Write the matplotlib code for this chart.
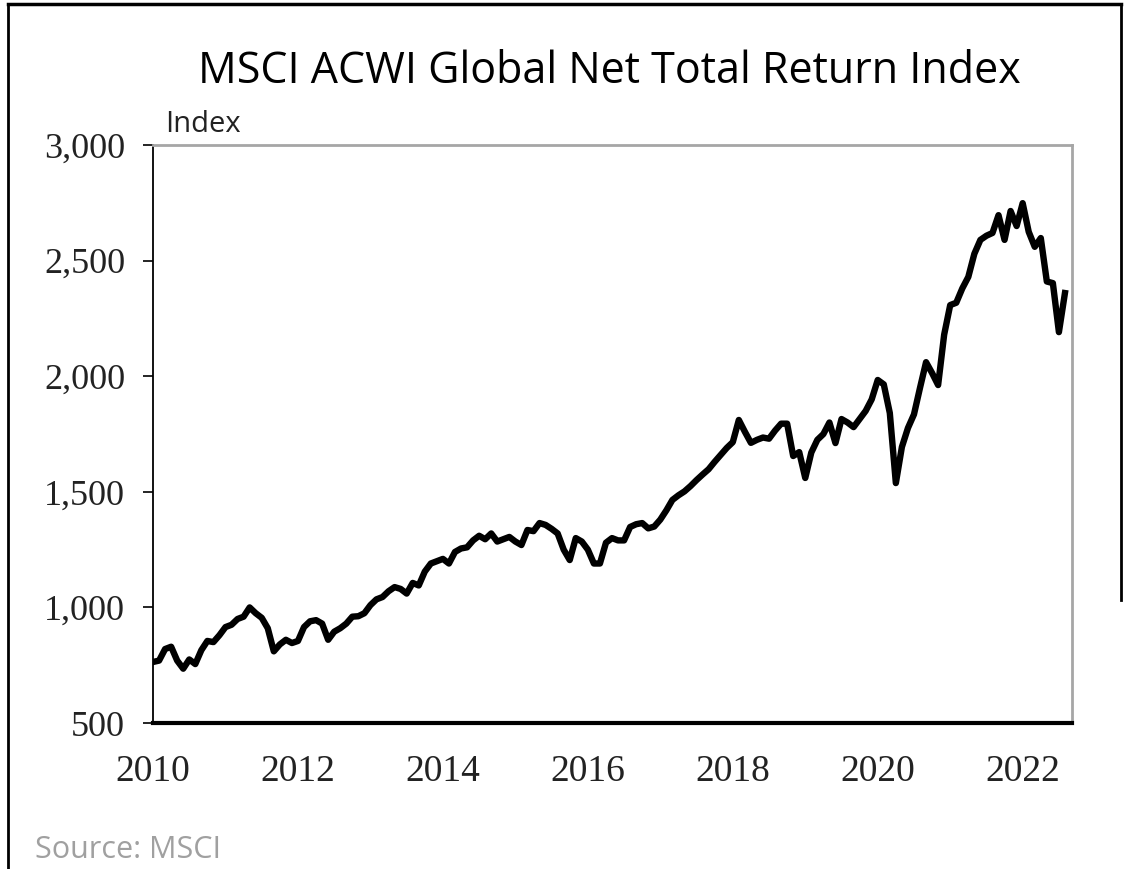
import numpy as np
import matplotlib
matplotlib.use("Agg")
import matplotlib.pyplot as plt
from matplotlib.lines import Line2D
from matplotlib.ticker import FuncFormatter

# monthly index levels, Jan 2010 onwards
index_values = [
    764, 770, 820, 830, 770, 735, 775, 755, 815, 855, 850, 880,        # 2010
    915, 925, 950, 960, 1000, 975, 955, 910, 810, 840, 860, 846,       # 2011
    855, 915, 940, 945, 930, 860, 895, 910, 930, 960, 962, 975,        # 2012
    1010, 1035, 1045, 1070, 1088, 1080, 1060, 1106, 1095, 1155, 1190, 1200,  # 2013
    1210, 1190, 1240, 1255, 1260, 1290, 1310, 1295, 1320, 1285, 1295, 1305,  # 2014
    1285, 1270, 1335, 1330, 1365, 1357, 1340, 1320, 1250, 1205, 1300, 1285,  # 2015
    1250, 1190, 1190, 1280, 1300, 1290, 1290, 1348, 1360, 1365, 1342, 1350,  # 2016
    1380, 1420, 1465, 1485, 1502, 1525, 1551, 1575, 1598, 1630, 1660, 1690,  # 2017
    1715, 1811, 1760, 1712, 1725, 1735, 1730, 1765, 1795, 1795, 1655, 1672,  # 2018
    1560, 1670, 1725, 1750, 1800, 1711, 1815, 1800, 1780, 1815, 1850, 1900,  # 2019
    1984, 1965, 1841, 1538, 1694, 1776, 1835, 1950, 2061, 2014, 1962, 2180,  # 2020
    2308, 2318, 2380, 2430, 2530, 2590, 2608, 2620, 2697, 2590, 2715, 2650,  # 2021
    2749, 2625, 2560, 2598, 2410, 2403, 2191, 2360,                          # 2022
]
start_year = 2010
year_ticks = [2010, 2012, 2014, 2016, 2018, 2020, 2022]
y_ticks = [500, 1000, 1500, 2000, 2500, 3000]

years = start_year + np.arange(len(index_values)) / 12.0

fig = plt.figure(figsize=(11.26, 8.69), dpi=100)
ax = fig.add_axes([0.1359, 0.168, 0.8161, 0.665])

ax.plot(years, index_values, color="black", linewidth=4.6, solid_joinstyle="round")

ax.set_xlim(2010, 2022.68)
ax.set_ylim(500, 3000)
ax.set_yticks(y_ticks)
ax.set_xticks(year_ticks)
ax.yaxis.set_major_formatter(FuncFormatter(lambda v, p: f"{int(v):,}"))

ax.tick_params(axis="y", direction="out", length=7, width=1.2, labelsize=26, pad=13,
               colors="black", labelcolor="#222222")
ax.tick_params(axis="x", length=0, labelsize=27, pad=23, labelcolor="#222222")
for lab in ax.get_xticklabels() + ax.get_yticklabels():
    lab.set_family(["Liberation Serif", "DejaVu Serif"])

ax.spines["left"].set_color("black")
ax.spines["left"].set_linewidth(1.3)
ax.spines["bottom"].set_color("black")
ax.spines["bottom"].set_linewidth(3)
ax.spines["top"].set_color("#a6a6a6")
ax.spines["top"].set_linewidth(2)
ax.spines["right"].set_color("#a6a6a6")
ax.spines["right"].set_linewidth(2)

fig.text(0.541, 0.918, "MSCI ACWI Global Net Total Return Index", ha="center", va="center",
         fontsize=31, family=["Open Sans", "DejaVu Sans"], color="black")
fig.text(0.147, 0.857, "Index", ha="left", va="center", fontsize=21,
         family=["Open Sans", "DejaVu Sans"], color="#222222")
fig.text(0.031, 0.022, "Source: MSCI", ha="left", va="center", fontsize=22,
         family=["Open Sans", "DejaVu Sans"], color="#a0a0a0")

# outer frame of the original graphic (bottom edge is cropped)
fig.add_artist(Line2D([0.007, 0.996], [0.995, 0.995], transform=fig.transFigure,
                      color="black", linewidth=2.5))
fig.add_artist(Line2D([0.007, 0.007], [0.0, 0.995], transform=fig.transFigure,
                      color="black", linewidth=2))
fig.add_artist(Line2D([0.996, 0.996], [0.31, 0.995], transform=fig.transFigure,
                      color="black", linewidth=2))

fig.savefig("out.png", dpi=100)
